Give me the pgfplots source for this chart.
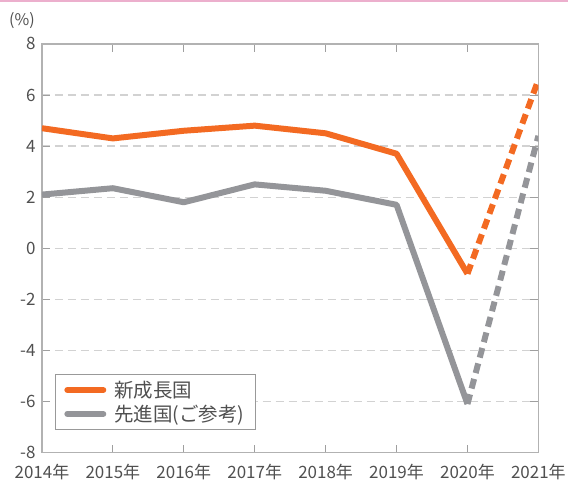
\documentclass[border=0pt]{standalone}
\usepackage{pgfplots}
\pgfplotsset{compat=1.18}
\usepackage{fontspec}
\setmainfont{Noto Sans CJK JP}
\definecolor{orng}{RGB}{243,106,34}
\definecolor{gry}{RGB}{148,149,153}
\definecolor{txt}{RGB}{80,80,80}
\definecolor{pnk}{RGB}{236,175,205}
\pgfplotstableread{
x y
2014 4.7
2015 4.3
2016 4.6
2017 4.8
2018 4.5
2019 3.7
2020 -1.0
}\emerging
\pgfplotstableread{
x y
2020 -1.0
2021 6.6
}\emergingf
\pgfplotstableread{
x y
2014 2.1
2015 2.35
2016 1.8
2017 2.5
2018 2.25
2019 1.7
2020 -6.1
}\advanced
\pgfplotstableread{
x y
2020 -6.1
2021 4.4
}\advancedf
\begin{document}
\begin{tikzpicture}
\fill[pnk] (-42pt,451pt) rectangle (527pt,453pt);
\path (-42pt,-31pt) rectangle (527pt,453pt);
\node[text=txt, font=\fontsize{16}{18}\selectfont] at (-20pt,432pt) {(\%)};
\begin{axis}[
  scale only axis, width=497pt, height=409pt,
  xmin=2014, xmax=2021, ymin=-8, ymax=8,
  xtick={2014,...,2021},
  xticklabels={2014年,2015年,2016年,2017年,2018年,2019年,2020年,2021年},
  ytick={-8,-6,...,8},
  tick align=inside,
  major tick length=8pt,
  tick style={gray!75, line width=1pt},
  axis line style={gray!60, line width=1.4pt},
  ymajorgrids,
  grid style={gray!35, dash pattern=on 8pt off 5pt, line width=1.2pt},
  tick label style={text=txt, font=\fontsize{17}{19}\selectfont},
  /pgf/number format/assume math mode=true,
  xticklabel style={anchor=base, yshift=-26pt},
  yticklabel style={anchor=east, xshift=-3pt},
  legend style={at={(rel axis cs:0.026,0.193)}, anchor=north west,
    draw=gray!80, line width=1pt, font=\fontsize{19.5}{21}\selectfont, text=txt,
    inner xsep=9pt, inner ysep=5pt, row sep=2pt,
    /tikz/every odd column/.append style={column sep=6pt}},
  legend cell align=left,
  legend image code/.code={\draw[#1, line width=6pt, line cap=round, solid] (0pt,0pt) -- (36pt,0pt);},
]
\addplot[orng, line width=6pt, line join=round] table[x=x,y=y] {\emerging};
\addlegendentry{新成長国}
\addplot[gry, line width=6pt, line join=round] table[x=x,y=y] {\advanced};
\addlegendentry{先進国(ご参考)}
\addplot[orng, line width=6pt, dash pattern=on 10pt off 6pt, forget plot] table[x=x,y=y] {\emergingf};
\addplot[gry, line width=6pt, dash pattern=on 10pt off 6pt, forget plot] table[x=x,y=y] {\advancedf};
\end{axis}
\end{tikzpicture}
\end{document}
